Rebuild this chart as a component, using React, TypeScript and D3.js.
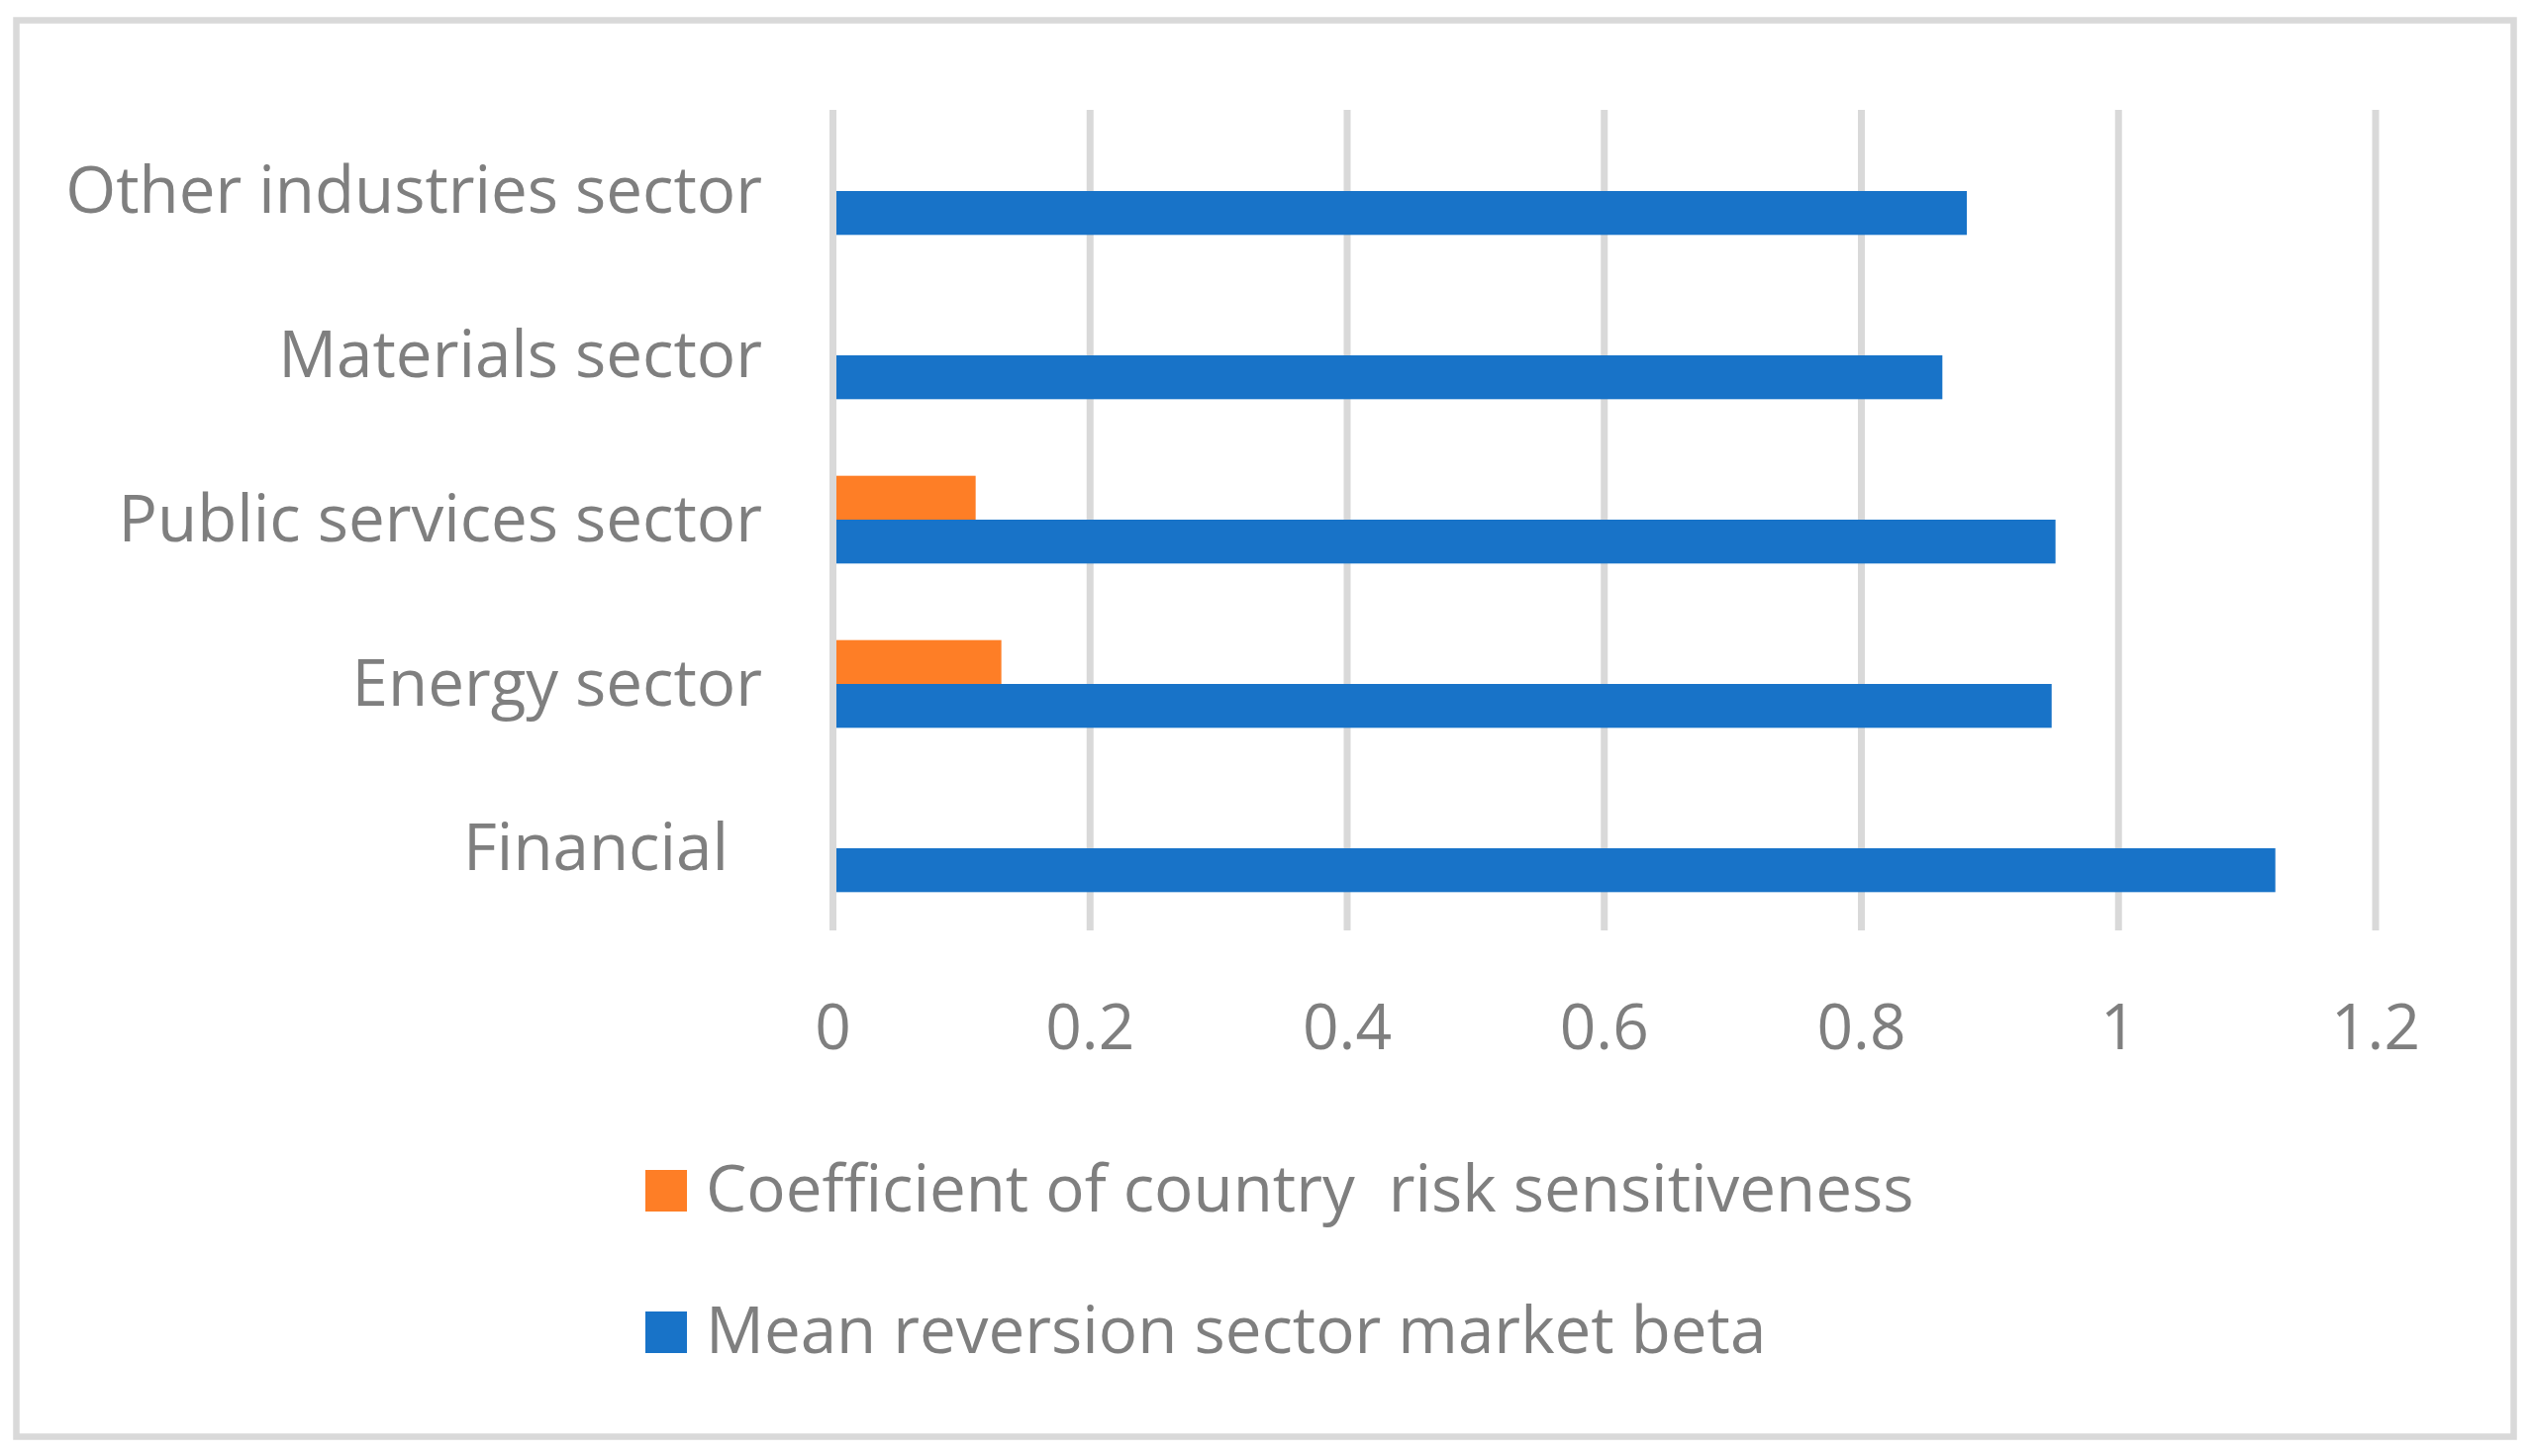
import React, { useEffect } from "react";
import * as d3 from "d3";

// ---- data ----
const categories: string[] = [
  "Other industries sector",
  "Materials sector",
  "Public services sector",
  "Energy sector",
  "Financial  ",
];
const seriesNames: string[] = [
  "Coefficient of country  risk sensitiveness",
  "Mean reversion sector market beta",
];
const coefficientValues: (number | null)[] = [null, null, 0.111, 0.131, null];
const betaValues: number[] = [0.882, 0.863, 0.951, 0.948, 1.122];
const xTicks: number[] = [0, 0.2, 0.4, 0.6, 0.8, 1, 1.2];
const tickLabels: string[] = ["0", "0.2", "0.4", "0.6", "0.8", "1", "1.2"];

const seriesColors = ["#fe7e26", "#1873c8"];
const W = 2558;
const H = 1471;
const FONT = "'Open Sans', 'Noto Sans', sans-serif";
const TEXT = "#7f7f7f";
const GRID = "#d9d9d9";
const FS = 65.5;

export default function App() {
  useEffect(() => {
    document.body.style.margin = "0";
  }, []);

  const x = d3.scaleLinear().domain([0, 1.2]).range([841.5, 2400]);
  const y = d3
    .scaleBand<string>()
    .domain(categories)
    .range([110, 940])
    .paddingInner(0.466)
    .paddingOuter(0.233);
  const sub = d3
    .scaleBand<number>()
    .domain([0, 1])
    .range([0, y.bandwidth()]);

  const seriesValues: (number | null)[][] = [coefficientValues, betaValues];

  return (
    <svg
      width={W}
      height={H}
      style={{ position: "absolute", left: 0, top: 0, background: "#fff" }}
      fontFamily={FONT}
    >
      <rect x={0} y={0} width={W} height={H} fill="#fff" />
      <rect
        x={16.5}
        y={20.5}
        width={2523}
        height={1431}
        fill="none"
        stroke={GRID}
        strokeWidth={6.5}
      />
      {/* gridlines */}
      {xTicks.map((t) => (
        <line
          key={"g" + t}
          x1={x(t)}
          x2={x(t)}
          y1={111}
          y2={940}
          stroke={GRID}
          strokeWidth={7}
        />
      ))}
      {/* bars */}
      {seriesValues.map((vals, si) =>
        vals.map((v, ci) =>
          v == null ? null : (
            <rect
              key={"b" + si + "-" + ci}
              x={x(0)}
              y={(y(categories[ci]) as number) + (sub(si) as number)}
              width={x(v) - x(0)}
              height={sub.bandwidth()}
              fill={seriesColors[si]}
            />
          )
        )
      )}
      {/* zero axis line drawn over bars */}
      <line
        x1={x(0)}
        x2={x(0)}
        y1={111}
        y2={940}
        stroke={GRID}
        strokeWidth={7}
      />
      {/* tick labels */}
      {xTicks.map((t, i) => (
        <text
          key={"t" + t}
          x={x(t)}
          y={1060}
          textAnchor="middle"
          fontSize={64}
          fill={TEXT}
        >
          {tickLabels[i]}
        </text>
      ))}
      {/* category labels */}
      {categories.map((c) => (
        <text
          key={"c" + c}
          x={770}
          y={(y(c) as number) + y.bandwidth() / 2 + 22}
          textAnchor="end"
          fontSize={FS}
          fill={TEXT}
          style={{ whiteSpace: "pre" }}
        >
          {c}
        </text>
      ))}
      {/* legend */}
      {seriesNames.map((name, i) => (
        <g key={"l" + i} transform={`translate(652, ${1182 + i * 143})`}>
          <rect x={0} y={0} width={42} height={42} fill={seriesColors[i]} />
          <text
            x={61}
            y={42}
            fontSize={FS}
            fill={TEXT}
            style={{ whiteSpace: "pre" }}
          >
            {name}
          </text>
        </g>
      ))}
    </svg>
  );
}
